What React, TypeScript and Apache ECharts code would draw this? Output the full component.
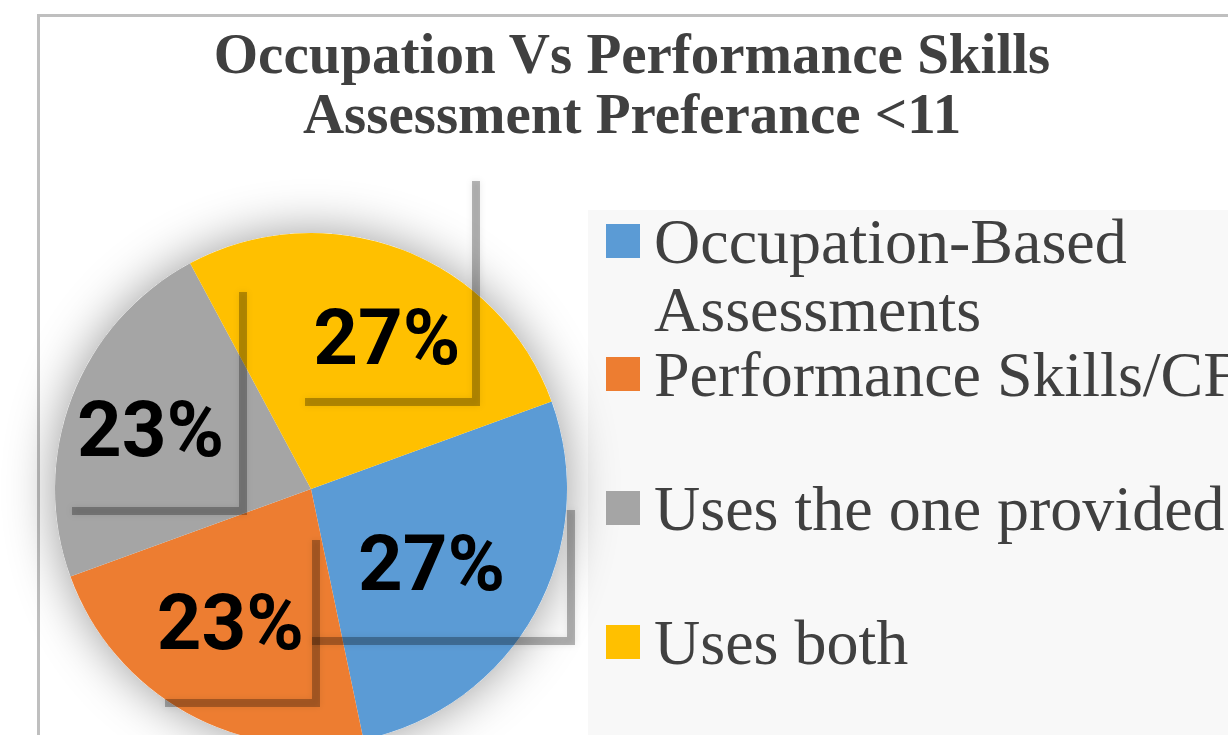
import React, { useEffect, useRef } from 'react';
import * as echarts from 'echarts';

// ---- data ----
const categories = [
  'Occupation-Based Assessments',
  'Performance Skills/CF',
  'Uses the one provided',
  'Uses both',
];
const values = [6, 5, 5, 6];
const colors = ['#5B9BD5', '#ED7D31', '#A5A5A5', '#FFC000'];
const titleLines = ['Occupation Vs Performance Skills', 'Assessment Preferance <11'];

// ---- styling / layout (not data) ----
const PIE_CENTER = [311, 489];
const PIE_RADIUS = 256;
const labelOffsets = [
  [6, 11],
  [-17, 19],
  [-38, -13],
  [29, -29],
];
const labelBoxShadows = [
  [[476, 181], [476, 402], [305, 402]],
  [[243, 292], [243, 511], [72, 511]],
  [[571, 510], [571, 641], [312, 641]],
  [[316, 540], [316, 703], [165, 703]],
];

const legendFont = {
  fontFamily: '"Liberation Serif", "Times New Roman", serif',
  fontSize: 64,
  color: '#404040',
};

export default function App() {
  const ref = useRef<HTMLDivElement>(null);

  useEffect(() => {
    if (!ref.current) return;
    const chart = echarts.init(ref.current, undefined, { renderer: 'svg' });

    const pieData = categories.map((name, i) => ({
      name,
      value: values[i],
      itemStyle: { color: colors[i] },
      label: { offset: labelOffsets[i] },
    }));

    chart.setOption({
      animation: false,
      backgroundColor: '#ffffff',
      title: {
        text: titleLines.join('\n'),
        left: 632,
        top: 23,
        padding: 0,
        textAlign: 'center',
        textStyle: {
          fontFamily: '"Liberation Serif", "Times New Roman", serif',
          fontWeight: 'bold',
          fontSize: 57,
          lineHeight: 60,
          color: '#404040',
        },
      },
      legend: [
        {
          data: [categories[0]],
          orient: 'vertical',
          left: 606,
          top: 139,
          padding: 0,
          itemWidth: 34,
          itemHeight: 34,
          icon: 'rect',
          selectedMode: false,
          // leading empty line keeps the first text line level with the marker
          formatter: (n: string) => '\n' + n.replace('-Based ', '-Based\n'),
          textStyle: { ...legendFont, lineHeight: 68, padding: [0, 0, 0, 9] },
        },
        {
          data: categories.slice(1),
          orient: 'vertical',
          left: 606,
          top: 342,
          padding: 0,
          itemGap: 70,
          itemWidth: 34,
          itemHeight: 34,
          icon: 'rect',
          selectedMode: false,
          textStyle: { ...legendFont, lineHeight: 62, padding: [0, 0, 0, 9] },
        },
      ],
      graphic: [
        {
          type: 'rect',
          z: -10,
          silent: true,
          shape: { x: 588, y: 210, width: 700, height: 600 },
          style: { fill: '#f8f8f8' },
        },
        {
          type: 'rect',
          z: 0,
          silent: true,
          shape: { x: 38.5, y: 15.5, width: 1400, height: 900 },
          style: { fill: null, stroke: '#bfbfbf', lineWidth: 3 },
        },
        ...labelBoxShadows.map((pts) => ({
          type: 'polyline',
          z: 5,
          silent: true,
          shape: { points: pts },
          style: {
            fill: null,
            stroke: 'rgba(0,0,0,0.28)',
            lineWidth: 8,
            shadowBlur: 6,
            shadowColor: 'rgba(0,0,0,0.3)',
          },
        })),
      ],
      series: [
        {
          type: 'pie',
          name: 'shadow',
          silent: true,
          z: 1,
          center: PIE_CENTER,
          radius: PIE_RADIUS,
          label: { show: false },
          labelLine: { show: false },
          itemStyle: {
            color: '#ffffff',
            shadowBlur: 50,
            shadowColor: 'rgba(0,0,0,0.4)',
          },
          data: [{ name: '__bg', value: 1 }],
        },
        {
          type: 'pie',
          name: 'Preference',
          z: 2,
          center: PIE_CENTER,
          radius: PIE_RADIUS,
          startAngle: 20,
          clockwise: true,
          avoidLabelOverlap: false,
          itemStyle: { borderWidth: 0 },
          label: {
            show: true,
            position: 'inside',
            formatter: (p: any) => Math.round(p.percent) + '%',
            fontFamily: 'Roboto, sans-serif',
            fontWeight: 'bold',
            fontSize: 78,
            color: '#000000',
          },
          labelLine: { show: false },
          emphasis: { disabled: true },
          data: pieData,
        },
      ],
    });

    return () => chart.dispose();
  }, []);

  return (
    <div style={{ position: 'absolute', left: 0, top: 0, width: 1228, height: 735, background: '#fff', overflow: 'hidden' }}>
      <div ref={ref} style={{ width: 1228, height: 735 }} />
    </div>
  );
}
